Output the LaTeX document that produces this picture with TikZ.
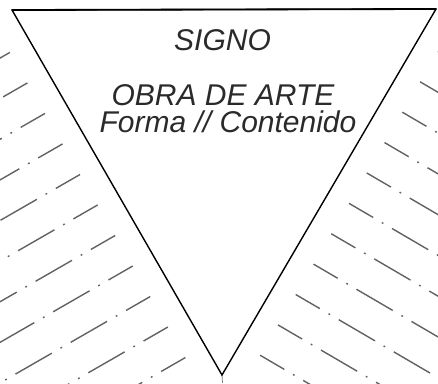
\documentclass[tikz,border=0pt]{standalone}
\usepackage{fontspec}
\setmainfont{Liberation Sans}
\usetikzlibrary{calc}
\definecolor{hatchgray}{HTML}{626262}
\definecolor{txtgray}{HTML}{2A2A2A}
\begin{document}
\begin{tikzpicture}[x=1pt,y=-1pt,
  hatchline/.style={hatchgray, line width=1.4pt, dash pattern=on 42pt off 10pt on 1.8pt off 10pt, dash phase=14pt},
  edgeline/.style={black, line width=1.4pt, line join=miter},
  topline/.style={black, line width=1.8pt},
  lbl/.style={font=\fontsize{30}{30}\selectfont\itshape, text=txtgray, anchor=base, inner sep=0pt, text height=21pt, text depth=0pt}]
\useasboundingbox (0,0) rectangle (438,383);
\coordinate (A) at (12,10);
\coordinate (B) at (436,9);
\coordinate (C) at (222,375);
\coordinate (tail) at (222.5,383);
\begin{scope}
\clip (0,0) rectangle (438,383);
% left hatching, perpendicular to edge A--C
\foreach \k in {0,...,12} {
  \pgfmathsetmacro\t{0.5+35.2*\k}
  \pgfmathsetmacro\px{12+\t*0.4987-23*0.8668}
  \pgfmathsetmacro\py{10+\t*0.8668+23*0.4987}
  \draw[hatchline] (\px,\py) -- ++(-0.8668*330, 0.4987*330);
}
% right hatching, perpendicular to edge B--C
\foreach \k in {0,...,12} {
  \pgfmathsetmacro\t{0.5+35.2*\k}
  \pgfmathsetmacro\px{436-\t*0.5047+23*0.8632}
  \pgfmathsetmacro\py{9+\t*0.8632+23*0.5047}
  \draw[hatchline] (\px,\py) -- ++(0.8632*330, 0.5047*330);
}
\draw[gray, line width=0.8pt] (C) -- (tail);
\end{scope}
\draw[edgeline] (A) -- (B) -- (C) -- cycle;
\draw[topline] (A) -- (B);
\node[lbl] (signo) at (222.5,50) {SIGNO};
\node[lbl] (obra) at (223,105) {OBRA DE ARTE};
\node[lbl] (forma) at (228,132.5) {Forma // Contenido};
\end{tikzpicture}
\end{document}
